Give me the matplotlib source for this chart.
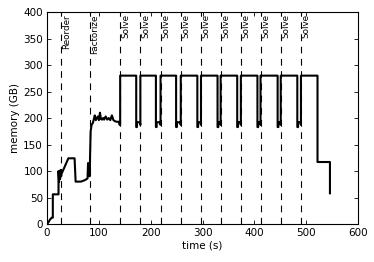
import matplotlib
matplotlib.use("Agg")
import matplotlib.pyplot as plt

# ramp-up phase (reorder + factorize)
t_setup = [0, 3, 6, 9, 11, 11, 22, 22, 23, 24, 25, 26, 27, 28, 41, 53, 55,
           65, 71, 75, 78, 79, 80, 81, 82, 84, 86, 88, 90, 92, 94, 96, 98,
           100, 102, 104, 106, 108, 110, 113, 116, 119, 122, 125, 128, 131,
           134, 138, 140, 141]
m_setup = [0, 4, 9, 12, 12, 56, 56, 100, 80, 98, 85, 102, 90, 95, 124, 124,
           80, 80, 82, 84, 86, 115, 95, 112, 90, 175, 188, 190, 197, 205,
           196, 200, 203, 196, 210, 198, 197, 200, 197, 203, 197, 200, 196,
           205, 196, 194, 193, 193, 187, 187]

# solve phases
solve_start = [141, 180, 219, 258, 297, 335, 374, 412, 451, 490]
solve_drop = [172, 210, 249, 290, 329, 367, 406, 445, 483, 522]
solve_peak = 280
solve_dip = 183
solve_idle = 192

# tail
t_tail = [522, 546, 546]
m_tail = [117, 117, 58]

events = [(27, "Reorder"), (82, "Factorize")] + [(s, "Solve") for s in solve_start]

# build the step path for the solve phase
t_solve, m_solve = [], []
for i, (s, d) in enumerate(zip(solve_start, solve_drop)):
    t_solve += [s, d]
    m_solve += [solve_peak, solve_peak]
    if i < len(solve_start) - 1:
        nxt = solve_start[i + 1]
        t_solve += [d, d + 1.5, d + 1.5, nxt - 1, nxt]
        m_solve += [solve_dip, solve_dip, solve_idle, solve_idle, solve_dip + 4]

t = t_setup + t_solve + t_tail
m = m_setup + m_solve + m_tail

fig = plt.figure(figsize=(3.74, 2.62), dpi=100)
ax = fig.add_axes([0.126, 0.145, 0.831, 0.809])

ax.plot(t, m, color="black", lw=1.5, zorder=3)

for x, label in events:
    ax.axvline(x, color="black", lw=0.8, ls=(0, (6, 5)), zorder=2)
    ax.text(x + 1.5, 396, label, rotation=90, ha="left", va="top",
            fontsize=6.3, color="black")

ax.set_xlim(0, 600)
ax.set_ylim(0, 400)
ax.set_xticks(range(0, 601, 100))
ax.set_yticks(range(0, 401, 50))
ax.tick_params(direction="in", top=True, right=True, labelsize=7.5,
               length=3, width=0.6, pad=3)
for sp in ax.spines.values():
    sp.set_linewidth(0.8)

ax.set_xlabel("time (s)", fontsize=7.5, labelpad=2)
ax.set_ylabel("memory (GB)", fontsize=7.5, labelpad=2)

fig.savefig("out.png", dpi=100)
